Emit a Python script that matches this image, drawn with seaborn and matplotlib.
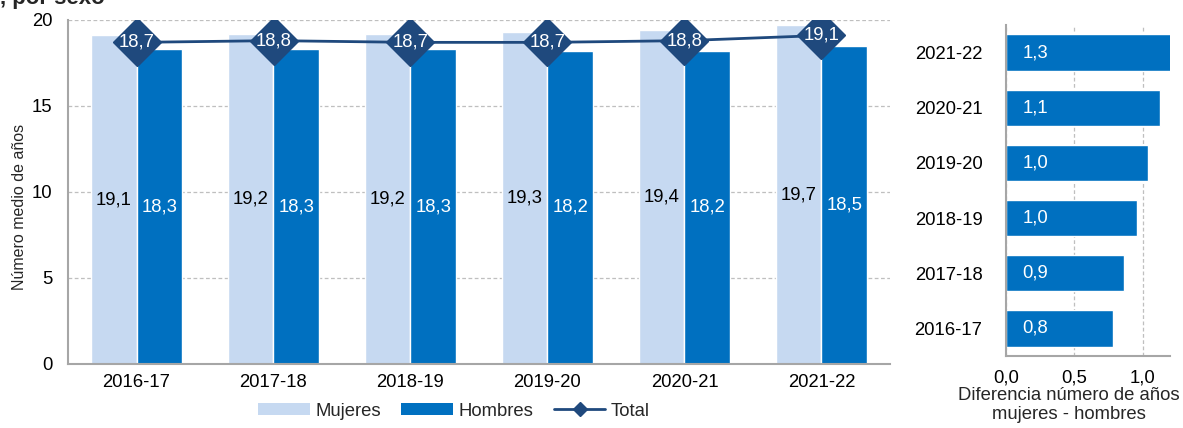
import matplotlib
matplotlib.use("Agg")
import matplotlib.pyplot as plt
from matplotlib.lines import Line2D
from matplotlib.patches import Patch
from matplotlib.ticker import FuncFormatter, FixedLocator
import numpy as np
import pandas as pd
import seaborn as sns

# ---- data ----
cursos = ["2016-17", "2017-18", "2018-19", "2019-20", "2020-21", "2021-22"]
mujeres = [19.1, 19.2, 19.2, 19.3, 19.4, 19.7]
hombres = [18.3, 18.3, 18.3, 18.2, 18.2, 18.5]
total = [18.7, 18.8, 18.7, 18.7, 18.8, 19.1]
diferencia = [0.78, 0.86, 0.96, 1.04, 1.13, 1.26]
series = ["Mujeres", "Hombres"]
ylabel_text = "Número medio de años"
xlabel_right = "Diferencia número de años\nmujeres - hombres"
title_text = ", por sexo"

# ---- style ----
sns.set_style("white")
plt.rcParams["font.family"] = ["Liberation Sans", "DejaVu Sans"]
FS = 13.3

c_muj = "#C6D9F1"
c_hom = "#0070C0"
c_tot = "#1F497D"
c_axis = "#A6A6A6"
c_grid = "#BFBFBF"

def comma(v, pos=None):
    return f"{v:.1f}".replace(".", ",")

W, H = 1183, 428
fig = plt.figure(figsize=(W / 100, H / 100), dpi=100)

# ---- left chart ----
ax = fig.add_axes([68 / W, (H - 364) / H, (890 - 68) / W, (364 - 20) / H])
df_sexo = pd.DataFrame({
    "curso": cursos * 2,
    "sexo": [series[0]] * len(cursos) + [series[1]] * len(cursos),
    "valor": mujeres + hombres,
})
sns.barplot(data=df_sexo, x="curso", y="valor", hue="sexo", hue_order=series,
            palette=[c_muj, c_hom], width=0.664, gap=0, saturation=1,
            errorbar=None, legend=False, ax=ax, zorder=2)
ax.bar_label(ax.containers[0], labels=[comma(v) for v in mujeres],
             label_type="center", color="black", fontsize=FS)
ax.bar_label(ax.containers[1], labels=[comma(v) for v in hombres],
             label_type="center", color="white", fontsize=FS)

df_tot = pd.DataFrame({"curso": cursos, "total": total})
sns.pointplot(data=df_tot, x="curso", y="total", color=c_tot, markers="D",
              markersize=24, linewidth=2, markeredgewidth=1,
              markeredgecolor=c_tot, errorbar=None, ax=ax)
for line in ax.lines:
    line.set_zorder(4)
for i, v in enumerate(total):
    ax.text(i, v, comma(v), color="white", ha="center", va="center",
            fontsize=FS, zorder=6)

ax.set_ylim(0, 20)
ax.set_xlim(-0.5, len(cursos) - 0.5)
ax.set_yticks([0, 5, 10, 15, 20])
ax.yaxis.grid(True, linestyle=(0, (3, 2)), color=c_grid, linewidth=0.9)
ax.set_axisbelow(True)
ax.set_xlabel("")
ax.set_ylabel("")
for s in ["top", "right"]:
    ax.spines[s].set_visible(False)
for s in ["left", "bottom"]:
    ax.spines[s].set_color(c_axis)
    ax.spines[s].set_linewidth(1.5)
ax.tick_params(axis="x", which="major", length=0, pad=7, labelsize=FS, colors="black")
ax.xaxis.set_minor_locator(FixedLocator(np.arange(-0.5, len(cursos), 1.0)))
ax.tick_params(axis="x", which="minor", length=5, width=1.2, color=c_axis)
ax.tick_params(axis="y", length=5, width=1.2, color=c_axis, labelcolor="black",
               labelsize=FS, pad=6)
fig.text(20 / W, (H - 207) / H, ylabel_text, rotation=90, ha="center",
         va="center", fontsize=11.5)

handles = [
    Patch(facecolor=c_muj, edgecolor="none", label=series[0]),
    Patch(facecolor=c_hom, edgecolor="none", label=series[1]),
    Line2D([0], [0], color=c_tot, linewidth=2, marker="D", markersize=7,
           label="Total"),
]
fig.legend(handles=handles, loc="center", bbox_to_anchor=(454 / W, 17 / H),
           ncol=3, frameon=False, fontsize=FS, handlelength=2.8,
           handleheight=0.55, columnspacing=1.1, handletextpad=0.3,
           borderpad=0, borderaxespad=0)

# ---- right chart ----
ax2 = fig.add_axes([1006 / W, (H - 356) / H, (1170 - 1006) / W, (356 - 25) / H])
orden = cursos[::-1]
sns.barplot(x=diferencia, y=cursos, order=orden, orient="h", color=c_hom,
            saturation=1, width=0.66, errorbar=None, ax=ax2, zorder=2)
for p in ax2.containers[0]:
    ax2.annotate(comma(p.get_width()), (0, p.get_y() + p.get_height() / 2),
                 xytext=(12, 0), textcoords="offset points", ha="left",
                 va="center", color="white", fontsize=FS, zorder=5)
ax2.set_xlim(0, 1.2)
ax2.set_ylim(len(cursos) - 0.5, -0.5)
ax2.set_xticks([0, 0.5, 1.0])
ax2.xaxis.set_major_formatter(FuncFormatter(comma))
ax2.xaxis.grid(True, linestyle=(0, (3, 2)), color=c_grid, linewidth=0.9)
ax2.set_axisbelow(True)
ax2.set_ylabel("")
ax2.set_xlabel(xlabel_right, fontsize=FS, linespacing=1.1)
ax2.xaxis.set_label_coords((1069 - 1006) / (1170 - 1006), -0.095)
for s in ["top", "right"]:
    ax2.spines[s].set_visible(False)
for s in ["left", "bottom"]:
    ax2.spines[s].set_color(c_axis)
    ax2.spines[s].set_linewidth(1.5)
ax2.tick_params(axis="y", which="major", length=0, pad=17, labelsize=FS,
                colors="black")
ax2.yaxis.set_minor_locator(FixedLocator(np.arange(-0.5, len(cursos), 1.0)))
ax2.tick_params(axis="y", which="minor", length=5, width=1.2, color=c_axis)
ax2.tick_params(axis="x", length=5, width=1.2, color=c_axis, labelcolor="black",
                labelsize=FS, pad=5)

fig.text(0.0, 1 - 4 / H, title_text, ha="left", va="baseline",
         fontsize=16, fontweight="bold")

fig.savefig("out.png", dpi=100)
